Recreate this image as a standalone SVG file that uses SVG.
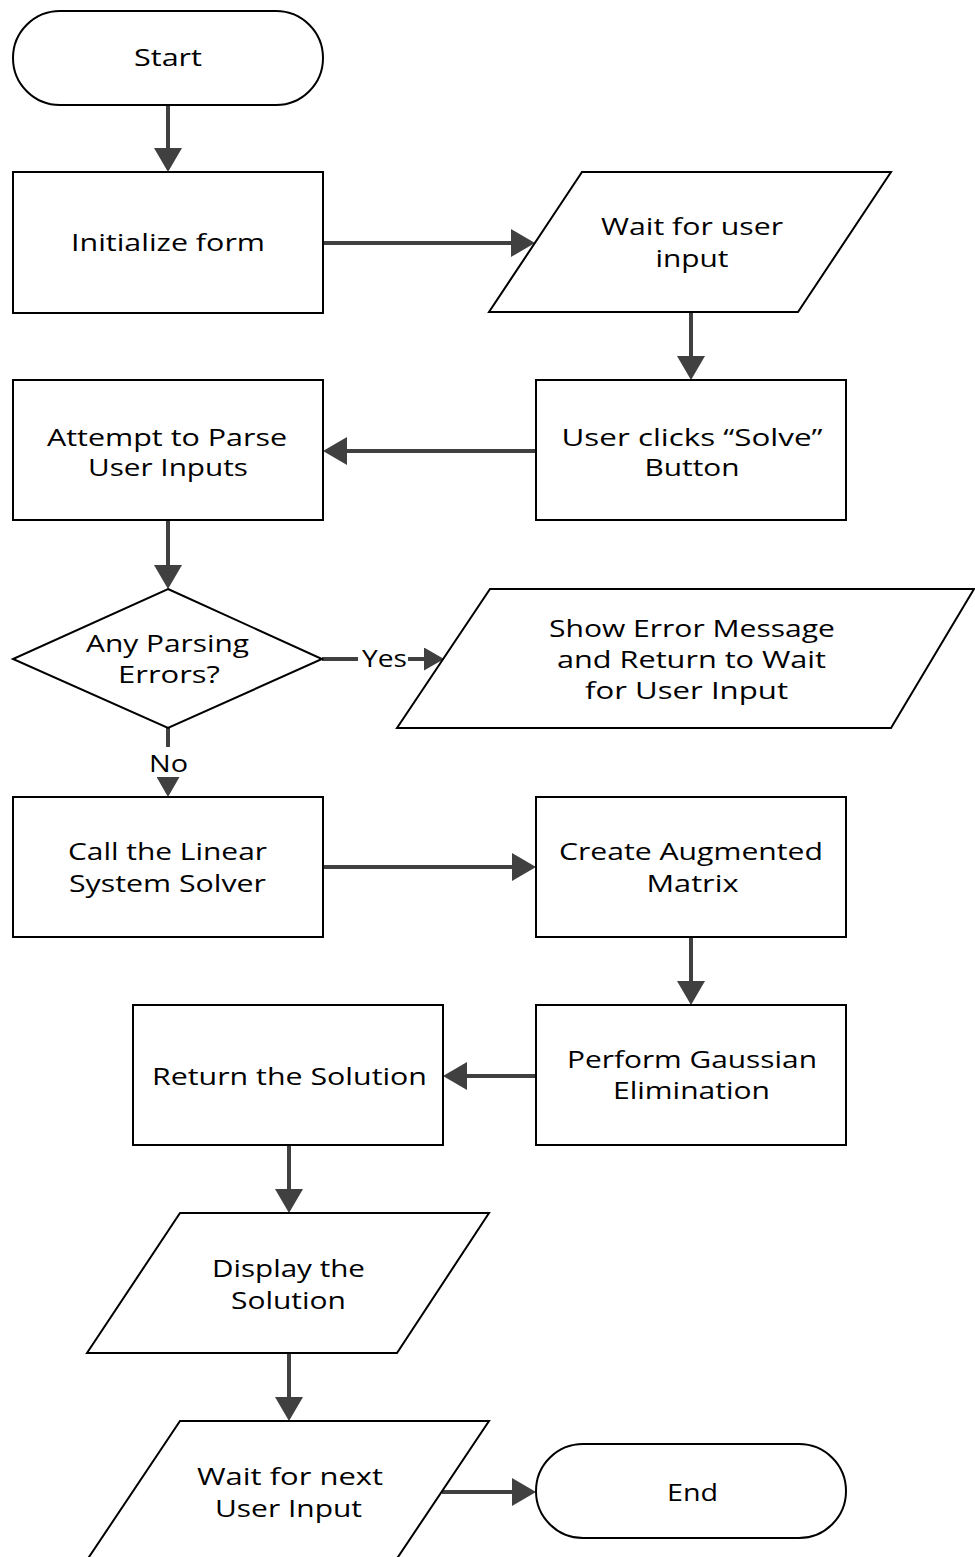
<svg xmlns="http://www.w3.org/2000/svg" width="975" height="1557" viewBox="0 0 975 1557">
<style>
.n{fill:#fff;stroke:#000;stroke-width:2}
.t{font-family:"Open Sans","Noto Sans","Liberation Sans",sans-serif;font-size:23px;fill:#000;text-anchor:middle}
.c{stroke:#404040;stroke-width:4;fill:none}
</style>
<defs>
<marker id="a" markerUnits="userSpaceOnUse" markerWidth="24" markerHeight="28" refX="14" refY="14" orient="auto">
<path d="M0,0 L24,14 L0,28 z" fill="#404040"/>
</marker>
<marker id="s" markerUnits="userSpaceOnUse" markerWidth="20" markerHeight="23" refX="10" refY="11.5" orient="auto">
<path d="M0,0 L20,11.5 L0,23 z" fill="#404040"/>
</marker>
</defs>
<rect width="975" height="1557" fill="#fff"/>
<g id="connectors">
<line class="c" x1="168" y1="105" x2="168" y2="162" marker-end="url(#a)"/>
<line class="c" x1="323" y1="243" x2="525" y2="243" marker-end="url(#a)"/>
<line class="c" x1="691" y1="312" x2="691" y2="370" marker-end="url(#a)"/>
<line class="c" x1="536" y1="451" x2="333" y2="451" marker-end="url(#a)"/>
<line class="c" x1="168" y1="520" x2="168" y2="579" marker-end="url(#a)"/>
<line class="c" x1="322" y1="659" x2="358" y2="659"/>
<line class="c" x1="408" y1="659" x2="434" y2="659" marker-end="url(#s)"/>
<text class="t" x="384.5" y="667" textLength="45" lengthAdjust="spacingAndGlyphs">Yes</text>
<line class="c" x1="168" y1="728" x2="168" y2="747"/>
<line class="c" x1="168" y1="780" x2="168" y2="787" marker-end="url(#s)"/>
<text class="t" x="168.5" y="772" textLength="39" lengthAdjust="spacingAndGlyphs">No</text>
<line class="c" x1="323" y1="867" x2="526" y2="867" marker-end="url(#a)"/>
<line class="c" x1="691" y1="937" x2="691" y2="995" marker-end="url(#a)"/>
<line class="c" x1="536" y1="1076" x2="453" y2="1076" marker-end="url(#a)"/>
<line class="c" x1="289" y1="1145" x2="289" y2="1203" marker-end="url(#a)"/>
<line class="c" x1="289" y1="1353" x2="289" y2="1411" marker-end="url(#a)"/>
<line class="c" x1="442" y1="1492" x2="526" y2="1492" marker-end="url(#a)"/>
</g>
<g id="start">
<rect class="n" x="13" y="11" width="310" height="94" rx="47" ry="47"/>
<text class="t" x="168" y="66" textLength="68" lengthAdjust="spacingAndGlyphs">Start</text>
</g>
<g id="init">
<rect class="n" x="13" y="172" width="310" height="141"/>
<text class="t" x="168" y="251" textLength="194" lengthAdjust="spacingAndGlyphs">Initialize form</text>
</g>
<g id="wait-input">
<polygon class="n" points="582,172 891,172 798,312 489,312"/>
<text class="t" x="692" y="235" textLength="182" lengthAdjust="spacingAndGlyphs">Wait for user</text>
<text class="t" x="692" y="267" textLength="73" lengthAdjust="spacingAndGlyphs">input</text>
</g>
<g id="user-clicks">
<rect class="n" x="536" y="380" width="310" height="140"/>
<text class="t" x="692" y="446" textLength="261" lengthAdjust="spacingAndGlyphs">User clicks “Solve”</text>
<text class="t" x="692" y="476" textLength="95" lengthAdjust="spacingAndGlyphs">Button</text>
</g>
<g id="parse">
<rect class="n" x="13" y="380" width="310" height="140"/>
<text class="t" x="167" y="446" textLength="240" lengthAdjust="spacingAndGlyphs">Attempt to Parse</text>
<text class="t" x="168" y="476" textLength="160" lengthAdjust="spacingAndGlyphs">User Inputs</text>
</g>
<g id="decision">
<polygon class="n" points="168,589 322,659 168,728 13,659"/>
<text class="t" x="167.5" y="652" textLength="163" lengthAdjust="spacingAndGlyphs">Any Parsing</text>
<text class="t" x="169" y="683" textLength="102" lengthAdjust="spacingAndGlyphs">Errors?</text>
</g>
<g id="show-error">
<polygon class="n" points="490,589 974,589 891,728 397,728"/>
<text class="t" x="692" y="637" textLength="286" lengthAdjust="spacingAndGlyphs">Show Error Message</text>
<text class="t" x="691.5" y="668" textLength="269" lengthAdjust="spacingAndGlyphs">and Return to Wait</text>
<text class="t" x="686.5" y="699" textLength="203" lengthAdjust="spacingAndGlyphs">for User Input</text>
</g>
<g id="call-solver">
<rect class="n" x="13" y="797" width="310" height="140"/>
<text class="t" x="167.5" y="860" textLength="199" lengthAdjust="spacingAndGlyphs">Call the Linear</text>
<text class="t" x="167.5" y="892" textLength="197" lengthAdjust="spacingAndGlyphs">System Solver</text>
</g>
<g id="augmented">
<rect class="n" x="536" y="797" width="310" height="140"/>
<text class="t" x="691" y="860" textLength="264" lengthAdjust="spacingAndGlyphs">Create Augmented</text>
<text class="t" x="692.5" y="892" textLength="92" lengthAdjust="spacingAndGlyphs">Matrix</text>
</g>
<g id="gaussian">
<rect class="n" x="536" y="1005" width="310" height="140"/>
<text class="t" x="692" y="1068" textLength="250" lengthAdjust="spacingAndGlyphs">Perform Gaussian</text>
<text class="t" x="691.5" y="1099" textLength="157" lengthAdjust="spacingAndGlyphs">Elimination</text>
</g>
<g id="return-solution">
<rect class="n" x="133" y="1005" width="310" height="140"/>
<text class="t" x="289.5" y="1085" textLength="275" lengthAdjust="spacingAndGlyphs">Return the Solution</text>
</g>
<g id="display">
<polygon class="n" points="180,1213 489,1213 397,1353 87,1353"/>
<text class="t" x="288.5" y="1277" textLength="153" lengthAdjust="spacingAndGlyphs">Display the</text>
<text class="t" x="288.5" y="1309" textLength="115" lengthAdjust="spacingAndGlyphs">Solution</text>
</g>
<g id="wait-next">
<polygon class="n" points="180,1421 489,1421 396,1560 87,1560"/>
<text class="t" x="290" y="1485" textLength="186" lengthAdjust="spacingAndGlyphs">Wait for next</text>
<text class="t" x="288.5" y="1517" textLength="147" lengthAdjust="spacingAndGlyphs">User Input</text>
</g>
<g id="end">
<rect class="n" x="536" y="1444" width="310" height="94" rx="47" ry="47"/>
<text class="t" x="692.5" y="1501" textLength="51" lengthAdjust="spacingAndGlyphs">End</text>
</g>
</svg>
